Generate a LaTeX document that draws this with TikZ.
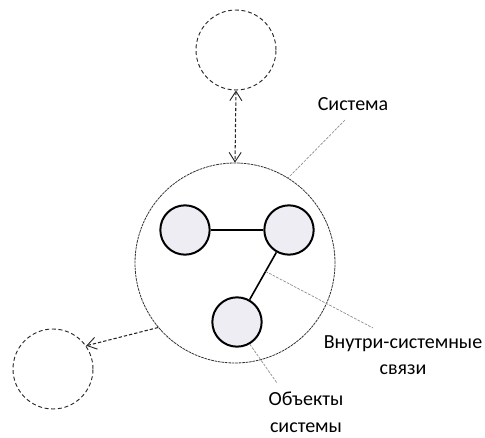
\documentclass[tikz,border=0pt]{standalone}
\usepackage{fontspec}
\setmainfont{Carlito}
\usetikzlibrary{arrows.meta,calc}
\definecolor{objfill}{HTML}{EEEDF4}
\definecolor{leadgray}{HTML}{8A8A8A}
\begin{document}
\begin{tikzpicture}[x=0.75pt,y=-0.75pt,
  obj/.style={circle,draw=black,line width=1.5pt,fill=objfill,minimum size=37pt,inner sep=0pt},
  ext/.style={circle,draw=black!85,dashed,line width=0.7pt,dash pattern=on 3pt off 2pt,minimum size=60pt,inner sep=0pt},
  sys/.style={circle,draw=black!80,line width=0.6pt,dash pattern=on 2pt off 0.6pt,minimum size=150pt,inner sep=0pt},
  link/.style={line width=1.2pt,black},
  rel/.style={dashed,line width=0.8pt,dash pattern=on 2.5pt off 1.5pt,black!85},
  lead/.style={leadgray,line width=0.5pt,dash pattern=on 2pt off 1pt},
  lbl/.style={font=\fontsize{15}{18}\selectfont,align=center,inner sep=0pt}
]
\useasboundingbox (0,0) rectangle (485,438);
\node[sys] (S) at (235,263) {};
\node[ext] (T) at (236,50) {};
\node[ext] (L) at (53,369) {};
\node[obj] (A) at (185,230) {};
\node[obj] (B) at (289,230) {};
\node[obj] (C) at (237,322) {};
\draw[link] (A) -- (B);
\draw[link] (B) -- (C);
\draw[rel,{Straight Barb[length=7pt,width=9pt,line width=0.7pt]}-{Straight Barb[length=7pt,width=9pt,line width=0.7pt]}] (T.south) -- (S.north);
\draw[rel,-{Straight Barb[length=7pt,width=9pt,line width=0.7pt]}] (S.220) -- (L.35);
\node[lbl] (ls) at (353,104) {Система};
\node[lbl] (li) at (403,355) {Внутри-системные\\[2pt]связи};
\node[lbl] (lo) at (306,412) {Объекты\\[2pt]системы};
\coordinate (ps) at (345,120);
\coordinate (pi) at (373,328);
\coordinate (po) at (277,383);
\draw[lead] (ps) -- (S.58);
\draw[lead] ($(B)!0.45!(C)$) -- (pi);
\draw[lead] (C.300) -- (po);
\end{tikzpicture}
\end{document}
